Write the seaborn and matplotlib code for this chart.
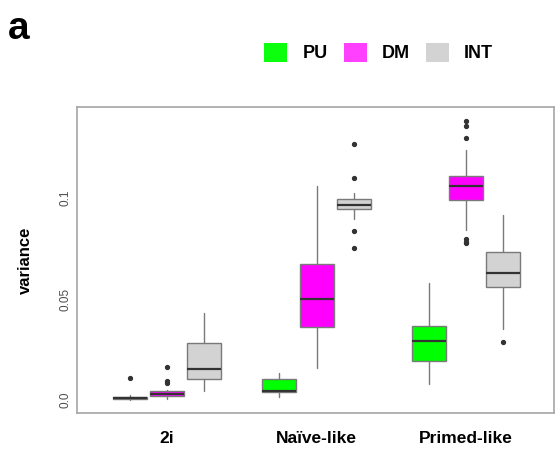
import numpy as np
import matplotlib
matplotlib.use("Agg")
import matplotlib.pyplot as plt
from matplotlib.patches import Patch
import seaborn as sns

# data (five-number summaries + outliers)
groups = ["2i", "Naïve-like", "Primed-like"]
hues = ["PU", "DM", "INT"]
colors = {"PU": "#00ff00", "DM": "#ff00ff", "INT": "#d3d3d3"}
legend_colors = {"PU": "#0cff0c", "DM": "#ff40ff", "INT": "#d3d3d3"}

# rows = groups, cols = PU, DM, INT
whislo = [[0.0000, 0.0005, 0.0045],
          [0.0013, 0.0160, 0.0895],
          [0.0079, 0.0842, 0.0350]]
q1 = [[0.0003, 0.0020, 0.0102],
      [0.0038, 0.0363, 0.0947],
      [0.0195, 0.0992, 0.0559]]
med = [[0.0008, 0.0030, 0.0153],
       [0.0046, 0.0500, 0.0967],
       [0.0292, 0.1058, 0.0629]]
q3 = [[0.0017, 0.0046, 0.0281],
      [0.0102, 0.0673, 0.0997],
      [0.0366, 0.1110, 0.0734]]
whishi = [[0.0025, 0.0050, 0.0429],
          [0.0135, 0.1061, 0.1023],
          [0.0578, 0.1238, 0.0917]]
fliers = [[[0.0109], [0.0165, 0.0094, 0.0082], []],
          [[], [], [0.1267, 0.1100, 0.0835, 0.0752]],
          [[], [0.1383, 0.1355, 0.1297, 0.0796, 0.0784, 0.0776], [0.0286]]]

sns.set_style("white")
plt.rcParams["font.family"] = ["Liberation Sans", "DejaVu Sans"]
plt.rcParams["text.color"] = "black"
plt.rcParams["axes.labelcolor"] = "black"

fig = plt.figure(figsize=(5.55, 4.53), dpi=100)
ax = fig.add_axes([0.1387, 0.0883, 0.8595, 0.6755])

offsets = [-0.25, 0.0, 0.25]
for gi, g in enumerate(groups):
    for hi, h in enumerate(hues):
        st = [dict(whislo=whislo[gi][hi], q1=q1[gi][hi], med=med[gi][hi],
                   q3=q3[gi][hi], whishi=whishi[gi][hi],
                   fliers=fliers[gi][hi], label=h)]
        ax.bxp(st, positions=[gi + offsets[hi]], widths=0.227,
               patch_artist=True, showcaps=False,
               boxprops=dict(facecolor=colors[h], edgecolor="#7a7a7a", linewidth=1.0),
               medianprops=dict(color="#333333", linewidth=1.6),
               whiskerprops=dict(color="#7a7a7a", linewidth=1.0),
               flierprops=dict(marker="o", markersize=2.8, markerfacecolor="#333333",
                               markeredgecolor="#333333"))

ax.set_xlim(-0.602, 2.588)
ax.set_ylim(-0.0064, 0.145)
ax.set_xticks(range(len(groups)))
ax.set_xticklabels(groups, fontsize=12.5, fontweight="bold", color="black")
ax.set_yticks([0.0, 0.05, 0.1])
ax.set_yticklabels(["0.0", "0.05", "0.1"], fontsize=8.5, color="#4d4d4d",
                   rotation=90, va="center")
ax.tick_params(axis="x", length=2, color="#aaaaaa", pad=11)
ax.tick_params(axis="y", length=2, color="#aaaaaa", pad=2)
ax.set_ylabel("variance", fontsize=12, fontweight="bold", labelpad=19)
for s in ax.spines.values():
    s.set_color("#a6a6a6")
    s.set_linewidth(1.2)

fig.text(0.014, 0.915, "a", fontsize=28, fontweight="bold", color="black")

handles = [Patch(facecolor=legend_colors[h], edgecolor="none", label=h) for h in hues]
fig.legend(handles=handles, loc="center left", bbox_to_anchor=(0.476, 0.884),
           ncol=3, frameon=False, prop=dict(size=13, weight="bold"),
           handlelength=1.28, handleheight=1.28, handletextpad=0.83,
           columnspacing=0.9, borderaxespad=0, borderpad=0)

fig.savefig("out.png", dpi=100)
